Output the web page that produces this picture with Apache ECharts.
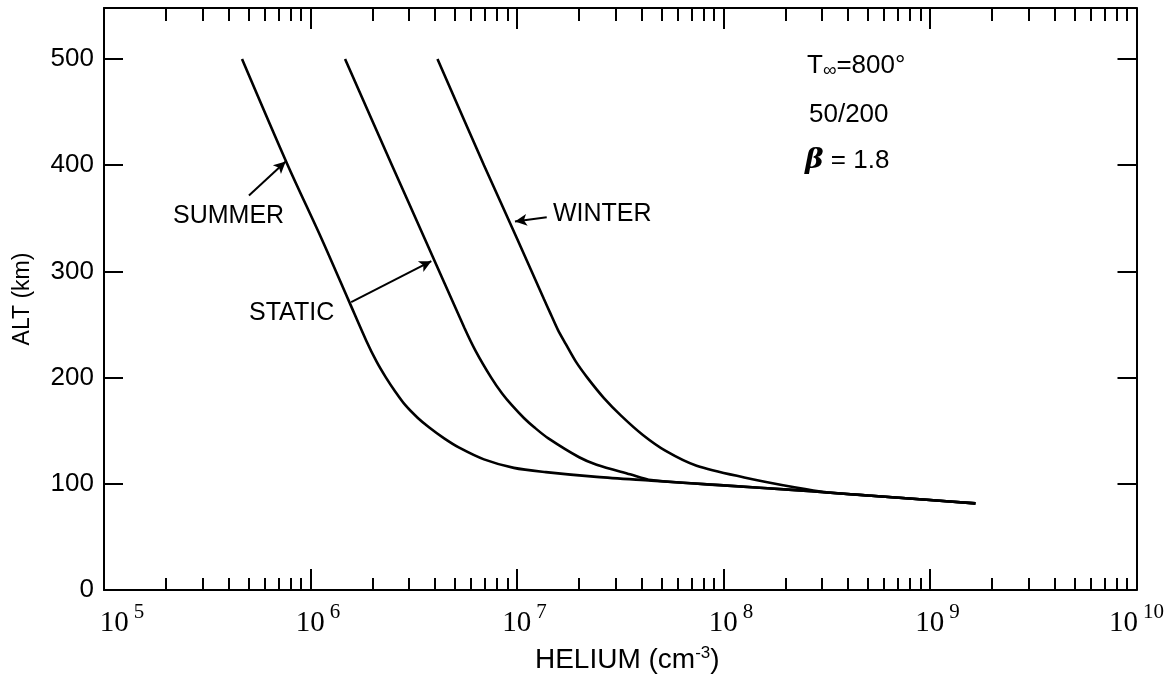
<!DOCTYPE html>
<html>
<head>
<meta charset="utf-8">
<script src="https://cdn.jsdelivr.net/npm/echarts@6/dist/echarts.min.js"></script>
<style>
  html, body { margin: 0; padding: 0; background: #fff; }
  #chart { width: 1167px; height: 679px; }
</style>
</head>
<body>
<div id="chart"></div>
<script>
  // altitude (km) for each curve
  var summerAlt = [500, 400, 331, 272, 235, 215, 200, 187, 174, 162, 153, 143, 134, 123, 115, 111, 106.5, 103, 98.5, 94, 91.8, 89, 84.7, 81.6]
  // helium density (cm-3)
  var summerHe = [4.66e5, 7.76e5, 1.13e6, 1.535e6, 1.86e6, 2.09e6, 2.32e6, 2.57e6, 2.88e6, 3.31e6, 3.76e6, 4.42e6, 5.25e6, 6.92e6, 9.66e6, 1.38e7, 2.43e7, 4.47e7, 1.0e8, 2.24e8, 3.16e8, 5.01e8, 1.0e9, 1.66e9]

  var staticAlt = [500, 400, 331, 247, 225, 200, 185, 174, 162, 153, 143, 125, 118, 109, 103.5, 98.5, 94, 91.8, 89, 84.7, 81.6]
  var staticHe = [1.47e6, 2.48e6, 3.57e6, 5.56e6, 6.31e6, 7.5e6, 8.47e6, 9.44e6, 1.08e7, 1.216e7, 1.413e7, 2.0e7, 2.43e7, 3.53e7, 4.47e7, 1.0e8, 2.24e8, 3.16e8, 5.01e8, 1.0e9, 1.66e9]

  var winterAlt = [500, 400, 331, 274, 260, 245, 232, 215, 200, 181, 164, 146, 131, 117, 106, 96.5, 92, 89, 84.7, 81.6]
  var winterHe = [4.12e6, 6.92e6, 1.0e7, 1.35e7, 1.455e7, 1.578e7, 1.718e7, 1.928e7, 2.19e7, 2.63e7, 3.2e7, 4.07e7, 5.25e7, 7.41e7, 1.26e8, 2.24e8, 3.16e8, 5.01e8, 1.0e9, 1.66e9]

  // axis ticks
  var decades = [1e5, 1e6, 1e7, 1e8, 1e9, 1e10]
  var minorTicks = []
  decades.slice(0, 5).forEach(function (d) {
    for (var k = 2; k <= 9; k++) minorTicks.push(k * d)
  })
  var altTicks = [0, 100, 200, 300, 400, 500]

  function pairs(he, alt) {
    return he.map(function (v, i) { return [v, alt[i]] })
  }

  var myChart = echarts.init(document.getElementById('chart'))

  var lineFont = 'Liberation Sans'

  function logAxis(pos, ticks, len, showLine, showLabel) {
    return {
      type: 'log',
      logBase: 10,
      min: 1e5,
      max: 1e10,
      position: pos,
      axisLine: { show: showLine, onZero: false, lineStyle: { color: '#000', width: 2 } },
      axisTick: { show: true, inside: true, length: len, customValues: ticks, lineStyle: { color: '#000', width: 2 } },
      axisLabel: showLabel ? {
        show: true,
        customValues: decades,
        margin: 8,
        color: '#000',
        formatter: function (v) {
          var e = Math.round(Math.log(v) / Math.LN10)
          var pre = e === 5 ? '{sp5|}' : (e < 10 ? '{sp|}' : '')
          return pre + '{b|10}{e|' + e + '}'
        },
        rich: {
          sp: { width: 15 },
          sp5: { width: 36 },
          b: { fontSize: 29, lineHeight: 40, verticalAlign: 'bottom', fontFamily: 'Liberation Serif', color: '#000' },
          e: { fontSize: 21, lineHeight: 24, verticalAlign: 'top', fontFamily: 'Liberation Serif', color: '#000', padding: [4, 0, 0, 5] }
        }
      } : { show: false },
      splitLine: { show: false },
      minorTick: { show: false }
    }
  }

  function altAxis(pos, showLabel) {
    return {
      type: 'value',
      min: 0,
      max: 548,
      position: pos,
      axisLine: { show: true, lineStyle: { color: '#000', width: 2 } },
      axisTick: { show: true, inside: true, length: 19, customValues: altTicks, lineStyle: { color: '#000', width: 2 } },
      axisLabel: showLabel ? {
        show: true, customValues: altTicks, margin: 10, fontSize: 26, fontFamily: lineFont, color: '#000'
      } : { show: false },
      splitLine: { show: false }
    }
  }

  var xBottom = logAxis('bottom', decades, 21, true, true)
  xBottom.name = '{a|HELIUM (cm}{s|-3}{a|)}'
  xBottom.nameLocation = 'middle'
  xBottom.nameGap = 55
  xBottom.nameTextStyle = {
    padding: [0, 0, 0, 14],
    rich: {
      a: { fontSize: 28, fontFamily: lineFont, color: '#000' },
      s: { fontSize: 17, fontFamily: lineFont, color: '#000', padding: [0, 0, 13, 0] }
    }
  }

  var yLeft = altAxis('left', true)
  yLeft.name = 'ALT (km)'
  yLeft.nameLocation = 'middle'
  yLeft.nameRotate = 90
  yLeft.nameGap = 70
  yLeft.nameTextStyle = { fontSize: 23, fontFamily: lineFont, color: '#000' }

  var curveStyle = { color: '#000', width: 2.6 }

  var arrowLine = function (list) {
    return {
      silent: true,
      symbol: ['none', 'arrow'],
      symbolSize: [9, 12],
      label: { show: false },
      lineStyle: { color: '#000', width: 2, type: 'solid' },
      data: list
    }
  }

  var option = {
    animation: false,
    backgroundColor: '#fff',
    grid: { left: 104, right: 25, top: 8, bottom: 86, containLabel: false },
    xAxis: [
      xBottom,
      logAxis('bottom', minorTicks, 12, false, false),
      logAxis('top', decades, 21, true, false),
      logAxis('top', minorTicks, 13, false, false)
    ],
    yAxis: [
      yLeft,
      altAxis('right', false)
    ],
    series: [
      {
        name: 'SUMMER', type: 'line', data: pairs(summerHe, summerAlt),
        showSymbol: false, smooth: 0.3, lineStyle: curveStyle, itemStyle: { color: '#000' },
        markLine: arrowLine([
          [{ coord: [10 ** 5.702, 371.5] }, { coord: [10 ** 5.880, 403.4] }]
        ])
      },
      {
        name: 'STATIC', type: 'line', data: pairs(staticHe, staticAlt),
        showSymbol: false, smooth: 0.3, lineStyle: curveStyle, itemStyle: { color: '#000' },
        markLine: arrowLine([
          [{ coord: [10 ** 6.197, 271] }, { coord: [10 ** 6.585, 309.6] }]
        ])
      },
      {
        name: 'WINTER', type: 'line', data: pairs(winterHe, winterAlt),
        showSymbol: false, smooth: 0.3, lineStyle: curveStyle, itemStyle: { color: '#000' },
        markLine: arrowLine([
          [{ coord: [10 ** 7.144, 351] }, { coord: [10 ** 6.99, 347] }]
        ])
      }
    ],
    graphic: [
      { type: 'text', left: 173, top: 204, style: { text: 'SUMMER', font: '25px "Liberation Sans"', fill: '#000' } },
      { type: 'text', left: 249, top: 301, style: { text: 'STATIC', font: '25px "Liberation Sans"', fill: '#000' } },
      { type: 'text', left: 553, top: 202, style: { text: 'WINTER', font: '25px "Liberation Sans"', fill: '#000' } },
      {
        type: 'text', left: 807, top: 53,
        style: {
          text: '{a|T}{s|∞}{a|=800°}',
          rich: {
            a: { fontSize: 26, fontFamily: lineFont, fill: '#000' },
            s: { fontSize: 19, fontFamily: lineFont, fill: '#000', padding: [9, 0, 0, 0] }
          }
        }
      },
      { type: 'text', left: 809, top: 102, style: { text: '50/200', font: '26px "Liberation Sans"', fill: '#000' } },
      {
        type: 'text', left: 805, top: 147,
        style: {
          text: '{b|β}{a| = 1.8}',
          rich: {
            a: { fontSize: 26, fontFamily: lineFont, fill: '#000' },
            b: { fontSize: 28, fontWeight: 'bold', fontStyle: 'italic', fontFamily: 'DejaVu Serif', fill: '#000' }
          }
        }
      }
    ]
  }

  myChart.setOption(option, true)
</script>
</body>
</html>
